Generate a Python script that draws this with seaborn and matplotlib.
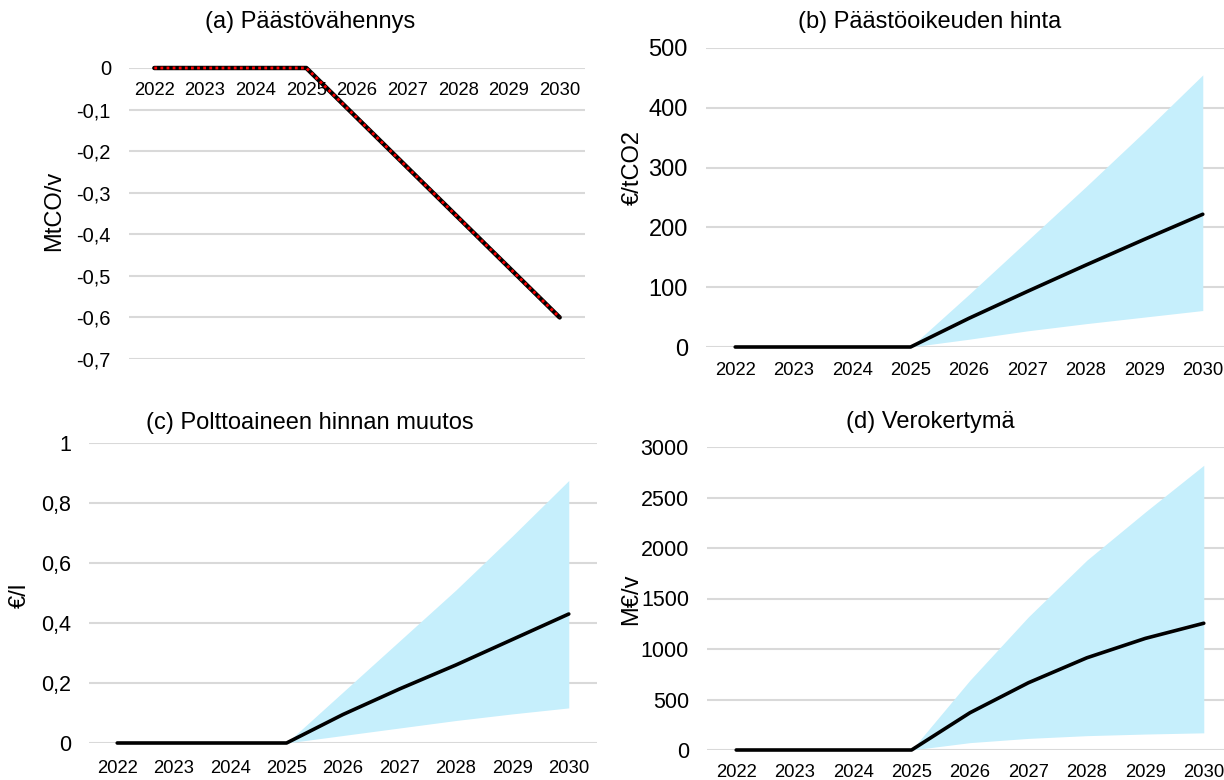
import numpy as np
import pandas as pd
import seaborn as sns
import matplotlib.pyplot as plt
from matplotlib.ticker import FuncFormatter

# vuodet
years = [2022, 2023, 2024, 2025, 2026, 2027, 2028, 2029, 2030]

# (a) päästövähennys, MtCO/v
paastovah = [0, 0, 0, 0, -0.12, -0.24, -0.36, -0.48, -0.60]

# (b) päästöoikeuden hinta, €/tCO2
hinta_mid = [0, 0, 0, 0, 48, 93, 137, 180, 222]
hinta_low = [0, 0, 0, 0, 13, 27, 39, 50, 61]
hinta_high = [0, 0, 0, 0, 88, 178, 268, 360, 455]

# (c) polttoaineen hinnan muutos, €/l
polt_mid = [0, 0, 0, 0, 0.095, 0.18, 0.26, 0.345, 0.43]
polt_low = [0, 0, 0, 0, 0.025, 0.05, 0.075, 0.097, 0.117]
polt_high = [0, 0, 0, 0, 0.17, 0.34, 0.51, 0.69, 0.875]

# (d) verokertymä, M€/v
vero_mid = [0, 0, 0, 0, 369, 666, 913, 1105, 1255]
vero_low = [0, 0, 0, 0, 73, 115, 142, 158, 170]
vero_high = [0, 0, 0, 0, 692, 1319, 1880, 2357, 2819]

sns.set_style("white")
plt.rcParams['font.family'] = ['Liberation Sans', 'DejaVu Sans']
plt.rcParams['text.color'] = 'black'
plt.rcParams['axes.labelcolor'] = 'black'
plt.rcParams['xtick.color'] = 'black'
plt.rcParams['ytick.color'] = 'black'

BAND = "#c6effc"
GRID = "#d9d9d9"

fig = plt.figure(figsize=(12.24, 7.8), dpi=100)

# akselien paikat pikseleinä (vasen, ylä, oikea, ala)
def add_ax(x0, y0, x1, y1):
    return fig.add_axes([x0 / 1224, 1 - y1 / 780, (x1 - x0) / 1224, (y1 - y0) / 780])

ax_a = add_ax(129, 68, 585, 359)
ax_b = add_ax(706, 48, 1232, 347)
ax_c = add_ax(89, 443, 597, 743)
ax_d = add_ax(707, 447, 1233, 750)


def pilkku(v, p):
    v = round(v, 6) + 0.0
    return f"{v:g}".replace(".", ",")


fmt = FuncFormatter(pilkku)


def style(ax, ylim, step, yfont, xpad, lab, lab_x, lab_y):
    ax.set_xlim(2021.5, 2030.5)
    ax.set_ylim(*ylim)
    ax.set_yticks(np.arange(ylim[0], ylim[1] + step / 2, step))
    ax.set_xticks(years)
    ax.set_xticklabels([str(y) for y in years])
    ax.yaxis.set_major_formatter(fmt)
    ax.grid(axis="y", color=GRID, linewidth=1.5)
    ax.grid(axis="x", visible=False)
    for s in ax.spines.values():
        s.set_visible(False)
    ax.tick_params(axis="y", length=0, pad=13, labelsize=yfont)
    ax.tick_params(axis="x", length=0, pad=xpad, labelsize=13.3)
    ax.set_ylabel(lab, fontsize=17)
    ax.yaxis.set_label_coords(lab_x, lab_y)
    ax.set_xlabel("")
    ax.set_axisbelow(True)


# (a)
sns.lineplot(x=years, y=paastovah, ax=ax_a, color="black", linewidth=3.2, clip_on=False)
sns.lineplot(x=years, y=paastovah, ax=ax_a, color="red", linewidth=2.0,
             linestyle=(0, (1, 1.2)), clip_on=False)
style(ax_a, (-0.7, 0), 0.1, 14.5, 10, "MtCO/v", -0.14, 0.509)
ax_a.set_yticks(np.round(np.arange(-0.7, 0.01, 0.1), 1))
ax_a.spines["bottom"].set_position(("data", 0))

# (b)
ax_b.fill_between(years, hinta_low, hinta_high, color=BAND, linewidth=0)
sns.lineplot(x=years, y=hinta_mid, ax=ax_b, color="black", linewidth=2.6, clip_on=False)
style(ax_b, (0, 500), 100, 17, 11, "€/tCO2", -0.118, 0.599)

# (c)
ax_c.fill_between(years, polt_low, polt_high, color=BAND, linewidth=0)
sns.lineplot(x=years, y=polt_mid, ax=ax_c, color="black", linewidth=2.6, clip_on=False)
style(ax_c, (0, 1), 0.2, 15.5, 12, "€/l", -0.114, 0.493)
ax_c.set_yticks([0, 0.2, 0.4, 0.6, 0.8, 1.0])

# (d)
ax_d.fill_between(years, vero_low, vero_high, color=BAND, linewidth=0)
sns.lineplot(x=years, y=vero_mid, ax=ax_d, color="black", linewidth=2.6, clip_on=False)
style(ax_d, (0, 3000), 500, 15.5, 10, "M€/v", -0.124, 0.498)

# otsikot
fig.text(310 / 1224, 1 - 22 / 780, "(a) Päästövähennys", ha="center", va="center", fontsize=17)
fig.text(930 / 1224, 1 - 22 / 780, "(b) Päästöoikeuden hinta", ha="center", va="center", fontsize=17)
fig.text(310 / 1224, 1 - 423 / 780, "(c) Polttoaineen hinnan muutos", ha="center", va="center", fontsize=17)
fig.text(930 / 1224, 1 - 422 / 780, "(d) Verokertymä", ha="center", va="center", fontsize=17)

fig.savefig("out.png", dpi=100)
